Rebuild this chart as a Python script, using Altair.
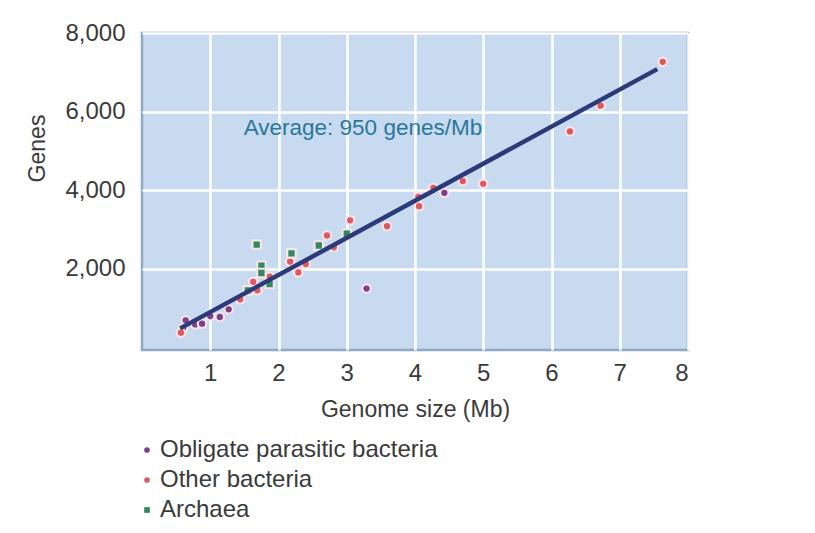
import altair as alt
import pandas as pd

# ---- data ----
groups = ["Obligate parasitic bacteria", "Other bacteria", "Archaea"]
group_colors = ["#7b3f8e", "#e0585e", "#2f8a5e"]

parasitic_x = [0.60, 0.64, 0.78, 0.88, 1.00, 1.14, 1.27, 3.29, 4.43]
parasitic_y = [470, 685, 580, 600, 795, 770, 965, 1495, 3930]

other_x = [0.57, 1.44, 1.63, 1.69, 1.87, 2.17, 2.29, 2.40, 2.71, 2.81,
           3.05, 3.59, 4.05, 4.06, 4.27, 4.70, 5.00, 6.27, 6.72, 7.63]
other_y = [370, 1220, 1665, 1450, 1800, 2180, 1905, 2120, 2845, 2545,
           3230, 3080, 3830, 3590, 4060, 4230, 4160, 5495, 6150, 7265]

archaea_x = [1.55, 1.68, 1.75, 1.75, 1.87, 2.19, 2.59, 3.00]
archaea_y = [1450, 2615, 2075, 1890, 1610, 2390, 2590, 2890]

fit_x = [0.56, 7.55]
fit_y = [480, 7080]

x_ticks = [1, 2, 3, 4, 5, 6, 7, 8]
y_ticks = [2000, 4000, 6000, 8000]

note_text = ["Average: 950 genes/Mb"]
note_x = [1.49]
note_y = [5590]

# ---- tables ----
pts = pd.DataFrame({
    "size": parasitic_x + other_x + archaea_x,
    "genes": parasitic_y + other_y + archaea_y,
    "group": [groups[0]] * len(parasitic_x) + [groups[1]] * len(other_x) + [groups[2]] * len(archaea_x),
})
fit = pd.DataFrame({"size": fit_x, "genes": fit_y})
note = pd.DataFrame({"size": note_x, "genes": note_y, "t": note_text})

FONT = "Liberation Sans"
TXT = "#3a3a3a"

xs = alt.Scale(domain=[0, 8], nice=False, zero=False)
ys = alt.Scale(domain=[-70, 8000], nice=False, zero=False)

x_axis = alt.Axis(values=x_ticks, format="d", title="Genome size (Mb)", domain=False, ticks=False,
                  grid=True, gridColor="white", gridWidth=2.5, labelPadding=11,
                  labelFontSize=24, labelColor=TXT, labelFont=FONT,
                  titleFontSize=23, titleFont=FONT, titleColor=TXT, titleFontWeight="normal",
                  titleY=59, titleBaseline="middle")
y_axis = alt.Axis(values=y_ticks, title="Genes", format=",.0f", domain=False, ticks=False,
                  grid=True, gridColor="white", gridWidth=2.5, labelPadding=17,
                  labelFontSize=24, labelColor=TXT, labelFont=FONT,
                  titleFontSize=23, titleFont=FONT, titleColor=TXT, titleFontWeight="normal",
                  titleX=-105, titleY=115, titleAngle=-90, titleAlign="center",
                  titleBaseline="middle")

points = alt.Chart(pts).mark_point(filled=True, size=72, stroke="#f7e3e8",
                                   strokeWidth=2.2, opacity=1).encode(
    x=alt.X("size:Q", scale=xs, axis=x_axis),
    y=alt.Y("genes:Q", scale=ys, axis=y_axis),
    color=alt.Color("group:N", scale=alt.Scale(domain=groups, range=group_colors),
                    legend=alt.Legend(title=None, orient="none", legendX=-7, legendY=405,
                                      symbolSize=32, symbolStrokeWidth=0,
                                      labelFontSize=24, labelFont=FONT, labelColor=TXT,
                                      labelLimit=500, labelOffset=1, rowPadding=6,
                                      symbolOpacity=1)),
    shape=alt.Shape("group:N", scale=alt.Scale(domain=groups, range=["circle", "circle", "square"]),
                    legend=None),
)

line = alt.Chart(fit).mark_line(color="#2c3b78", strokeWidth=4.5).encode(
    x=alt.X("size:Q", scale=xs),
    y=alt.Y("genes:Q", scale=ys),
)

label = alt.Chart(note).mark_text(align="left", baseline="middle", fontSize=22.5,
                                  font=FONT, color="#2a7898").encode(
    x=alt.X("size:Q", scale=xs),
    y=alt.Y("genes:Q", scale=ys),
    text="t:N",
)

chart = alt.layer(points, line, label).properties(
    width=546, height=317,
    background="white",
    autosize=alt.AutoSizeParams(type="none"),
    padding={"left": 134, "top": 25, "right": 119, "bottom": 175},
).configure_view(
    fill="#c8daf0", stroke="#8fa9c2", strokeWidth=2.5
)

chart.save("out.html", embed_options={"renderer": "svg", "actions": False})
